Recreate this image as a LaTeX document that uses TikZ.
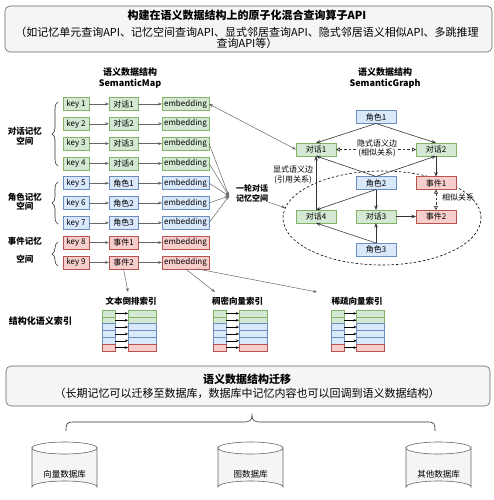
\documentclass[tikz,border=0pt]{standalone}
\usepackage{fontspec}
\setmainfont{Noto Sans CJK SC}
\usetikzlibrary{arrows.meta,shapes.geometric,decorations.pathreplacing,calc}
\definecolor{gfill}{HTML}{D5E8D4}\definecolor{gline}{HTML}{82B366}
\definecolor{bfill}{HTML}{DAE8FC}\definecolor{bline}{HTML}{6C8EBF}
\definecolor{rfill}{HTML}{F8CECC}\definecolor{rline}{HTML}{B85450}
\definecolor{pfill}{HTML}{F5F5F5}\definecolor{pline}{HTML}{666666}
\definecolor{arrc}{HTML}{666666}\definecolor{garrc}{HTML}{333333}
\newcommand\fsmall{\fontsize{8}{9.5}\selectfont}
\newcommand\fmid{\fontsize{8.5}{9.5}\selectfont}
\newcommand\fbig{\fontsize{11}{11}\selectfont}
\begin{document}
\begin{tikzpicture}[x=1pt,y=-1pt,
  every node/.style={inner sep=0pt,outer sep=0pt},
  box/.style={draw,minimum height=13pt,font=\fsmall,line width=0.5pt},
  gbox/.style={box,fill=gfill,draw=gline},
  bbox/.style={box,fill=bfill,draw=bline},
  rbox/.style={box,fill=rfill,draw=rline},
  gnode/.style={minimum width=40pt},
  arr/.style={-{Stealth[length=4pt,width=3pt]},draw=arrc,line width=0.5pt},
  garr/.style={-{Stealth[length=4.5pt,width=3.5pt]},draw=garrc,line width=0.6pt},
  darr/.style={{Triangle[open,length=4pt,width=4pt]}-{Triangle[open,length=4pt,width=4pt]},draw=garrc,line width=0.6pt,dash pattern=on 2.5pt off 2pt},
  iarr/.style={-{Stealth[length=3pt,width=2.5pt]},draw=black,line width=0.4pt},
  panel/.style={draw=pline,fill=pfill,rounded corners=5pt,line width=0.6pt},
  btitle/.style={font=\bfseries\fontsize{9}{11}\selectfont,align=center},
  blabel/.style={font=\bfseries\fmid,align=center},
  plabel/.style={font=\fsmall,align=center},
  bracestyle/.style={draw=garrc,line width=0.6pt,decorate,decoration={brace,amplitude=6pt}}
]
\useasboundingbox (0,0) rectangle (494,500);

% top panel
\node[panel,minimum width=487pt,minimum height=46pt] (topbox) at (248.5,29) {};
\node[font=\bfseries\fbig] (toptitle) at (247,15.5) {构建在语义数据结构上的原子化混合查询算子API};
\node[font=\fbig,align=center] (topsub) at (247,37.5) {（如记忆单元查询API、记忆空间查询API、显式邻居查询API、隐式邻居语义相似API、多跳推理\\[0pt]查询API等）};

% titles
\node[btitle] (maptitle) at (130,78.5) {语义数据结构\\SemanticMap};
\node[btitle] (graphtitle) at (385,78.5) {语义数据结构\\SemanticGraph};

% semantic map rows
\foreach \i/\k/\m/\s in {1/key 1/对话1/gbox,2/key 2/对话2/gbox,3/key 3/对话3/gbox,4/key 4/对话4/gbox,5/key 5/角色1/bbox,6/key 6/角色2/bbox,7/key 7/角色3/bbox,8/key 8/事件1/rbox,9/key 9/事件2/rbox}{
  \pgfmathsetmacro\yy{104+19.8*(\i-1)}
  \node[\s,minimum width=26pt] (k\i) at (76,\yy) {\k};
  \node[\s,minimum width=29pt] (m\i) at (123.5,\yy) {\m};
  \node[\s,minimum width=47pt] (e\i) at (185.5,\yy) {embedding};
  \draw[arr] (k\i) -- (m\i);
  \draw[arr] (m\i) -- (e\i);
}

% braces and memory-space labels
\draw[bracestyle] (58,166) -- (58,102);
\draw[bracestyle] (58,224) -- (58,182);
\draw[bracestyle] (58,266) -- (58,242);
\node[blabel] (lab1) at (25,136.5) {对话记忆\\空间};
\node[blabel] (lab2) at (25,201.5) {角色记忆\\空间};
\node[blabel] (lab3) at (25,250.5) {事件记忆\\[8pt]空间};

% semantic graph
\node[draw=black,dash pattern=on 2.5pt off 2pt,line width=0.6pt,ellipse,minimum width=198pt,minimum height=94pt] (ell) at (382,218) {};
\node[bbox,gnode] (r1) at (376,117) {角色1};
\node[gbox,gnode] (d1) at (316,149.5) {对话1};
\node[gbox,gnode] (d2) at (436,149.5) {对话2};
\node[bbox,gnode] (r2) at (376,183) {角色2};
\node[rbox,gnode] (v1) at (436,183) {事件1};
\node[gbox,gnode] (d4) at (316,216.5) {对话4};
\node[gbox,gnode] (d3) at (376,216.5) {对话3};
\node[rbox,gnode] (v2) at (436,216.5) {事件2};
\node[bbox,gnode] (r3) at (376,249.5) {角色3};

\draw[garr] (r1.south) -- (d1.north);
\draw[garr] (r1.south) -- (d2.north);
\draw[garr] (r2.north) -- (d1.south);
\draw[garr] (r2.north) -- (d2.south);
\draw[garr] (d4.north) -- (d1.south);
\draw[garr] (d2) -- (v1);
\draw[garr] (r2.south) -- (d4.north);
\draw[garr] (r2) -- (d3);
\draw[garr] (d3) -- (v2);
\draw[garr] (r3.north) -- (d4.south);
\draw[garr] (r3) -- (d3);
\draw[darr] (d1) -- (d2);
\draw[darr] (v1) -- (v2);
\node[plabel,fill=white,inner sep=1pt] (implicit) at (377,148.5) {隐式语义边\\(相似关系)};
\node[plabel] (explicit) at (293,175) {显式语义边\\(引用关系)};
\node[plabel] (similar) at (458,197) {相似关系};

% map to graph
\draw[arr,{Stealth[length=4pt,width=3pt]}-{Stealth[length=4pt,width=3pt]}] (e1.east) -- (d1.west);
\coordinate (conv) at (229,196);
\foreach \i in {3,...,7}{\draw[arr] (e\i.east) -- (conv);}
\node[font=\bfseries\fsmall,align=center] (round) at (252,193.5) {一轮对话\\记忆空间};
\draw[arr] (round.south east) -- (ell.174);

% index labels
\node[blabel] (idx1) at (131,301) {文本倒排索引};
\node[blabel] (idx2) at (237.5,301) {稠密向量索引};
\node[blabel] (idx3) at (357,301) {稀疏向量索引};
\node[font=\bfseries\fontsize{9}{11}\selectfont] (struct) at (40.5,321) {结构化语义索引};
\coordinate (t1) at (128,292);
\coordinate (t2) at (215,292);
\coordinate (t3) at (317,292);
\draw[arr] (m9.south) -- (t1);
\draw[arr] (e9.south) -- (t2);
\draw[arr] ($(e9.south)!0.5!(e9.south east)$) -- (t3);

% index blocks
\foreach \b/\lx/\rx in {1/108.5/142,2/219.5/253,3/337.5/370.5}{
  \foreach \j/\s in {1/gbox,2/gbox,3/bbox,4/bbox,5/bbox,6/rbox}{
    \pgfmathsetmacro\yy{310+6.83*(\j-0.5)}
    \node[\s,minimum width=13pt,minimum height=6.83pt] (L\b\j) at (\lx,\yy) {};
    \node[\s,minimum width=28pt,minimum height=6.83pt] (R\b\j) at (\rx,\yy) {};
    \draw[iarr] (L\b\j) -- (R\b\j);
  }
}

% bottom panel
\node[panel,minimum width=484pt,minimum height=40pt] (botbox) at (248,386) {};
\node[font=\bfseries\fbig] (bottitle) at (247,379) {语义数据结构迁移};
\node[font=\fbig] (botsub) at (247,393) {（长期记忆可以迁移至数据库，数据库中记忆内容也可以回调到语义数据结构）};

% bottom brace
\draw[draw=garrc,line width=0.6pt] (66,431) .. controls (66,423) and (67,422) .. (74,422) -- (244,422) .. controls (250,422) and (252,420) .. (252,415) .. controls (252,420) and (254,422) .. (260,422) -- (427,422) .. controls (434,422) and (435,423) .. (435,431);

% databases
\foreach \c/\t/\n in {64.5/向量数据库/db1,250.5/图数据库/db2,438.5/其他数据库/db3}{
  \draw[draw=pline,fill=pfill,line width=0.6pt] (\c-32.5,448) -- (\c-32.5,487) arc[start angle=180,end angle=0,x radius=32.5pt,y radius=6pt] -- (\c+32.5,448) arc[start angle=0,end angle=-180,x radius=32.5pt,y radius=6pt] -- cycle;
  \draw[draw=pline,line width=0.6pt] (\c-32.5,448) arc[start angle=180,end angle=0,x radius=32.5pt,y radius=6pt];
  \node[font=\fmid] (\n) at (\c,474) {\t};
}
\end{tikzpicture}
\end{document}
